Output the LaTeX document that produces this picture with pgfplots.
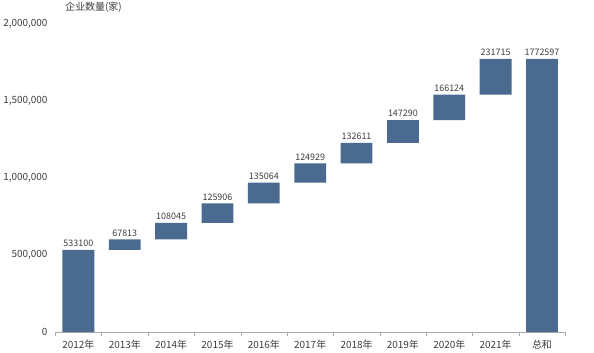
\documentclass[border=0pt]{standalone}
\usepackage{pgfplots}
\pgfplotsset{compat=1.18}
\usepackage{pgfplotstable}
\usepackage{fontspec}
\setmainfont{Noto Sans CJK SC}
\definecolor{barc}{RGB}{74,107,143}
\definecolor{txt}{RGB}{60,60,60}
\definecolor{axc}{RGB}{170,170,170}

\pgfplotstableread{
x base val top
0 0 533100 533100
1 533100 67813 600913
2 600913 108045 708958
3 708958 125906 834864
4 834864 135064 969928
5 969928 124929 1094857
6 1094857 132611 1227468
7 1227468 147290 1374758
8 1374758 166124 1540882
9 1540882 231715 1772597
10 0 1772597 1772597
}\data

\begin{document}
\begin{tikzpicture}
\begin{axis}[
  scale only axis, width=513pt, height=310pt,
  ybar stacked, bar width=32pt,
  xmin=-0.5, xmax=10.5, ymin=0, ymax=2000000,
  /pgf/number format/assume math mode=true,
  xtick={0,...,10},
  xticklabels={2012年,2013年,2014年,2015年,2016年,2017年,2018年,2019年,2020年,2021年,总和},
  major x tick style={draw=none},
  minor xtick={-0.5,0.5,...,10.5},
  minor x tick style={draw=axc},
  minor tick length=4pt,
  tick align=outside,
  axis x line*=bottom,
  axis y line*=left,
  y axis line style={draw=none},
  ytick={0,500000,1000000,1500000,2000000},
  ytick style={draw=none},
  scaled y ticks=false,
  yticklabel style={/pgf/number format/fixed, /pgf/number format/1000 sep={,}, font=\fontsize{10}{12}\selectfont, text=txt},
  xticklabel style={font=\fontsize{10}{12}\selectfont, text=txt},
  x axis line style={draw=axc},
  clip=false,
]
\addplot[draw=none, fill=none] table[x=x, y=base]{\data};
\addplot[fill=barc, draw=none] table[x=x, y=val]{\data};
\node[anchor=south west, font=\fontsize{10}{12}\selectfont, text=txt, inner sep=0pt] at (rel axis cs:0,1) [xshift=10pt, yshift=11pt] {企业数量(家)};
\end{axis}
\begin{axis}[
  scale only axis, width=513pt, height=310pt,
  xmin=-0.5, xmax=10.5, ymin=0, ymax=2000000,
  hide axis, clip=false,
  /pgf/number format/assume math mode=true,
]
\addplot[draw=none, mark=none, nodes near coords, point meta=explicit,
  nodes near coords style={anchor=south, inner sep=3pt, font=\fontsize{9}{11}\selectfont, text=txt, /pgf/number format/fixed, /pgf/number format/1000 sep={}, /pgf/number format/precision=0}]
  table[x=x, y=top, meta=val]{\data};
\end{axis}
\path (current axis.south west) ++(-52pt,-19pt) rectangle ++(594pt,353pt);
\end{tikzpicture}
\end{document}
